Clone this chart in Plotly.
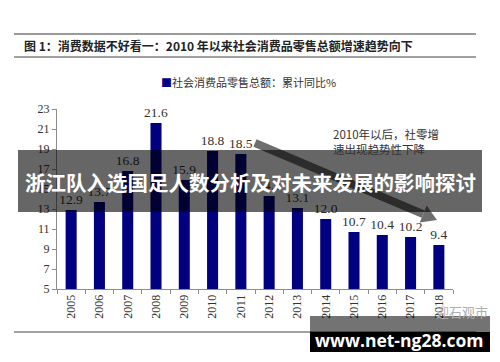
import plotly.graph_objects as go

years = ["2005", "2006", "2007", "2008", "2009", "2010", "2011",
         "2012", "2013", "2014", "2015", "2016", "2017", "2018"]
growth = [12.9, 13.7, 16.8, 21.6, 15.9, 18.8, 18.5,
          14.3, 13.1, 12.0, 10.7, 10.4, 10.2, 9.4]
y_ticks = [5, 7, 9, 11, 13, 15, 17, 19, 21, 23]

title_text = "图 1：消费数据不好看一：2010 年以来社会消费品零售总额增速趋势向下"
series_name = "社会消费品零售总额：累计同比%"
note_text = "2010年以后，社零增<br>速出现趋势性下降"
banner_text = "浙江队入选国足人数分析及对未来发展的影响探讨"
site_text = "www.net-ng28.com"
wm_text = "迎石观市"

W, H = 500, 362
L, R, T, B = 57, 453, 109, 289


def px(x):
    return (x - L) / (R - L)


def py(y):
    return (B - y) / (B - T)


fig = go.Figure()
fig.add_trace(go.Bar(
    x=years, y=growth, name=series_name,
    marker=dict(color="#000080", line=dict(width=0)),
    text=[f"{v:.1f}" for v in growth], textposition="outside",
    constraintext="none",
    textfont=dict(family="Liberation Serif", size=13.5, color="#333333"),
    cliponaxis=False, showlegend=False,
))

shapes = []
# header rules
shapes.append(dict(type="line", xref="paper", yref="paper", x0=px(14), x1=px(476),
                   y0=py(34), y1=py(34), line=dict(color="#9a9a9a", width=2), layer="above"))
shapes.append(dict(type="line", xref="paper", yref="paper", x0=px(14), x1=px(476),
                   y0=py(57), y1=py(57), line=dict(color="#444444", width=1), layer="above"))
shapes.append(dict(type="line", xref="paper", yref="paper", x0=px(14), x1=px(476),
                   y0=py(332), y1=py(332), line=dict(color="#444444", width=1), layer="above"))
# trend arrow
sx, sy, tx, ty = 255, 143, 437, 220
dx, dy = tx - sx, ty - sy
ln = (dx * dx + dy * dy) ** 0.5
ux, uy = dx / ln, dy / ln
bx, by = tx - 15 * ux, ty - 15 * uy
nx, ny = -uy, ux
shapes.append(dict(type="line", xref="paper", yref="paper", x0=px(sx), y0=py(sy),
                   x1=px(bx), y1=py(by), line=dict(color="#6e6e6e", width=8), layer="above"))
p1 = (bx + 9 * nx, by + 9 * ny)
p2 = (bx - 9 * nx, by - 9 * ny)
shapes.append(dict(type="path", xref="paper", yref="paper",
                   path=f"M {px(p1[0])},{py(p1[1])} L {px(tx)},{py(ty)} L {px(p2[0])},{py(p2[1])} Z",
                   fillcolor="#6e6e6e", line=dict(width=0), layer="above"))
# banner
shapes.append(dict(type="rect", xref="paper", yref="paper", x0=px(18), x1=px(482),
                   y0=py(212), y1=py(150), fillcolor="rgba(0,0,0,0.6)",
                   line=dict(width=0), layer="above"))
# site watermark
shapes.append(dict(type="rect", xref="paper", yref="paper", x0=px(310), x1=px(490),
                   y0=py(332), y1=py(316), fillcolor="rgba(0,0,0,0.55)",
                   line=dict(width=0), layer="above"))
shapes.append(dict(type="rect", xref="paper", yref="paper", x0=px(310), x1=px(490),
                   y0=py(352), y1=py(332), fillcolor="#000000",
                   line=dict(width=0), layer="above"))

annotations = [
    dict(xref="paper", yref="paper", x=px(22), y=py(46), xanchor="left", yanchor="middle",
         text="<b>" + title_text + "</b>", showarrow=False,
         font=dict(family="Noto Sans CJK SC", size=12, color="#222222")),
    dict(xref="paper", yref="paper", x=px(248), y=py(82), xanchor="center", yanchor="middle",
         text="<span style='color:#000080'>■</span>" + series_name, showarrow=False,
         font=dict(family="Noto Sans CJK SC", size=11, color="#333333")),
    dict(xref="paper", yref="paper", x=px(331), y=py(141), xanchor="left", yanchor="middle",
         text=note_text, showarrow=False, align="left",
         font=dict(family="Noto Sans CJK SC", size=11.5, color="#333333")),
    dict(xref="paper", yref="paper", x=px(462), y=py(311), xanchor="center", yanchor="middle",
         text=wm_text, showarrow=False,
         font=dict(family="Noto Sans CJK SC", size=13, color="#b0b0b0")),
    dict(xref="paper", yref="paper", x=px(250), y=py(182), xanchor="center", yanchor="middle",
         text="<b>" + banner_text + "</b>", showarrow=False,
         font=dict(family="Noto Sans CJK SC", size=20.5, color="#ffffff")),
    dict(xref="paper", yref="paper", x=px(399), y=py(340), xanchor="center", yanchor="middle",
         text="<b>" + site_text + "</b>", showarrow=False,
         font=dict(family="Open Sans", size=17.5, color="#ffffff")),
]

fig.update_layout(
    width=W, height=H,
    margin=dict(l=L, r=W - R, t=T, b=H - B, autoexpand=False),
    paper_bgcolor="white", plot_bgcolor="white",
    bargap=0.61,
    showlegend=False,
    xaxis=dict(type="category", showline=True, linecolor="#8c8c8c", linewidth=1,
               ticks="outside", tickson="boundaries", ticklen=4, tickcolor="#8c8c8c",
               tickangle=-90, showgrid=False,
               tickfont=dict(family="Liberation Serif", size=12, color="#333333")),
    yaxis=dict(range=[5, 23], tickvals=y_ticks, showline=True, linecolor="#8c8c8c",
               linewidth=1, ticks="outside", ticklen=4, tickcolor="#8c8c8c",
               showgrid=False, zeroline=False,
               tickfont=dict(family="Liberation Serif", size=12, color="#333333")),
    shapes=shapes, annotations=annotations,
)

fig.write_html("out.html", config={"displayModeBar": False},
               post_script="document.body.style.margin='0';")
